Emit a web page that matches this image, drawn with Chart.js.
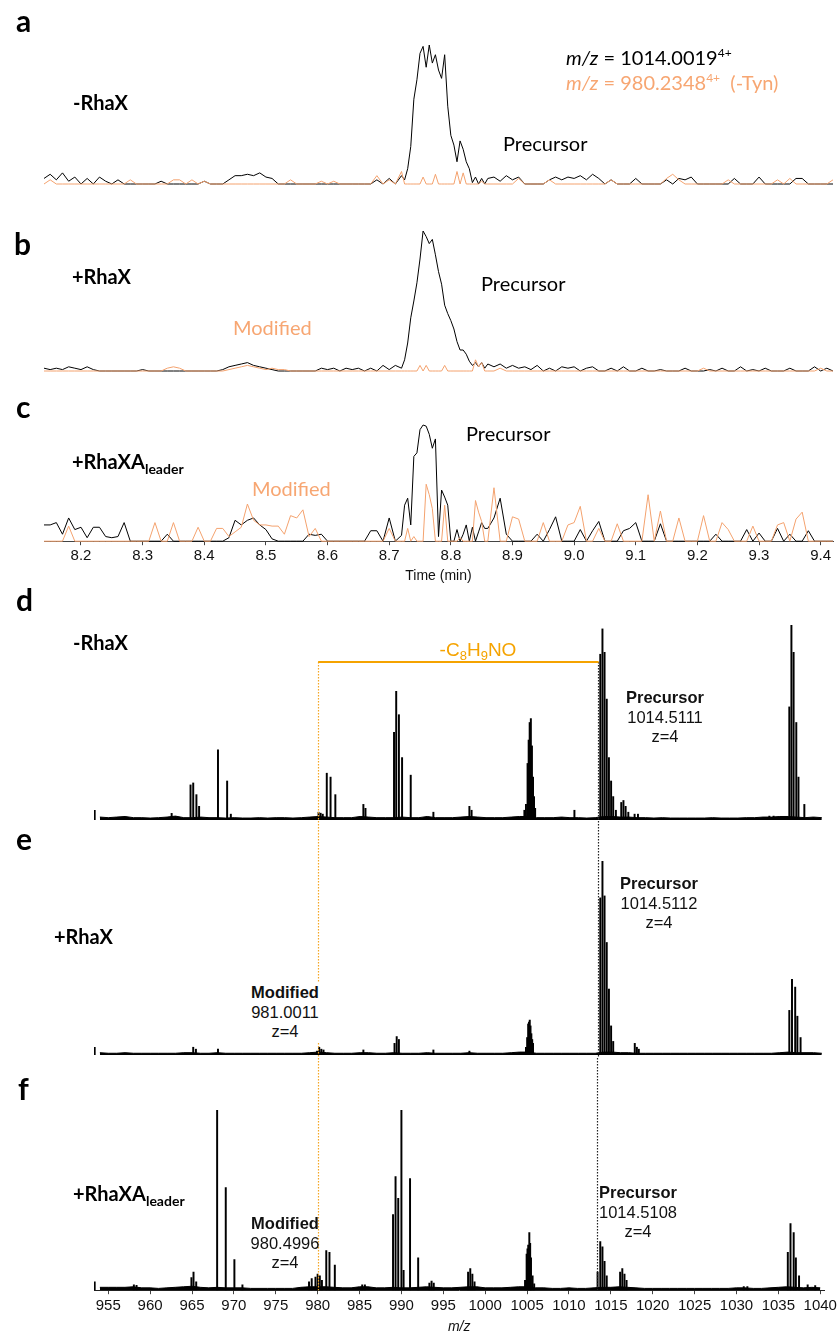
<!DOCTYPE html>
<html lang="en">
<head>
<meta charset="UTF-8">
<title>RhaX LC-MS traces and spectra</title>
<script src="https://cdn.jsdelivr.net/npm/chart.js"></script>
<style>
    body { margin: 0; background: #fff; }
    #fig { position: relative; width: 840px; height: 1334px; overflow: hidden; background: #fff; }
    canvas { position: absolute; left: 0; }
    .t { position: absolute; white-space: nowrap; line-height: 1; transform: translateY(-50%); color: #000; }
    .letter { font: 700 30px Lato, 'Open Sans', sans-serif; }
    .sample { font: 700 20px Lato, sans-serif; }
    .sample sub { font-size: 14px; vertical-align: -5px; line-height: 0; }
    .cal { font: 400 20px Lato, sans-serif; }
    .cal sup { font-size: 12px; vertical-align: 8px; line-height: 0; }
    .orange { color: #F7A672; }
    .block { position: absolute; white-space: nowrap; text-align: center; transform: translateX(-50%);
             font: 400 16.5px 'Liberation Sans', Arial, sans-serif; line-height: 19.5px; color: #111; }
    .block b { font-weight: 700; }
    .loss { font: 400 19px 'Liberation Sans', Arial, sans-serif; color: #F5A300; transform: translate(-50%, -50%); }
    .loss sub { font-size: 13px; vertical-align: -4px; line-height: 0; }
</style>
</head>
<body>
<div id="fig">
    <canvas id="chA" width="840" height="200" style="top:0px"></canvas>
    <canvas id="chB" width="840" height="180" style="top:200px"></canvas>
    <canvas id="chC" width="840" height="213" style="top:380px"></canvas>
    <canvas id="chD" width="840" height="234" style="top:590px"></canvas>
    <canvas id="chE" width="840" height="234" style="top:824px"></canvas>
    <canvas id="chF" width="840" height="280" style="top:1058px"></canvas>

    <!-- panel letters -->
    <div class="t letter" style="left:16px; top:20px">a</div>
    <div class="t letter" style="left:14px; top:243px">b</div>
    <div class="t letter" style="left:16px; top:406px">c</div>
    <div class="t letter" style="left:16px; top:599px">d</div>
    <div class="t letter" style="left:16px; top:838px">e</div>
    <div class="t letter" style="left:18px; top:1088px">f</div>

    <!-- chromatogram labels -->
    <div class="t sample" style="left:73px; top:102px">-RhaX</div>
    <div class="t sample" style="left:72px; top:276px">+RhaX</div>
    <div class="t sample" style="left:72px; top:461px">+RhaXA<sub>leader</sub></div>
    <div class="t cal" style="left:566px; top:57px"><i>m/z</i> = 1014.0019<sup>4+</sup></div>
    <div class="t cal orange" style="left:566px; top:82px"><i>m/z</i> = 980.2348<sup>4+</sup>&nbsp;&nbsp;(-Tyn)</div>
    <div class="t cal" style="left:503px; top:143px">Precursor</div>
    <div class="t cal" style="left:481px; top:283px">Precursor</div>
    <div class="t cal" style="left:466px; top:433px">Precursor</div>
    <div class="t cal orange" style="left:233px; top:327px">Modified</div>
    <div class="t cal orange" style="left:252px; top:488px">Modified</div>

    <!-- spectrum labels -->
    <div class="t sample" style="left:73px; top:642px">-RhaX</div>
    <div class="t sample" style="left:54px; top:936px">+RhaX</div>
    <div class="t sample" style="left:73px; top:1193px">+RhaXA<sub>leader</sub></div>
    <div class="t loss" style="left:478px; top:650px">-C<sub>8</sub>H<sub>9</sub>NO</div>
    <div class="block" style="left:665px; top:688px"><b>Precursor</b><br>1014.5111<br>z=4</div>
    <div class="block" style="left:659px; top:874px"><b>Precursor</b><br>1014.5112<br>z=4</div>
    <div class="block" style="left:285px; top:983px; background:#fff; padding:0 3px"><b>Modified</b><br>981.0011<br>z=4</div>
    <div class="block" style="left:285px; top:1214px"><b>Modified</b><br>980.4996<br>z=4</div>
    <div class="block" style="left:638px; top:1183px"><b>Precursor</b><br>1014.5108<br>z=4</div>
</div>

<script>
    // ---- chromatogram data (EIC, % of each panel's precursor apex) ----
    const times = [
        8.14, 8.15, 8.16, 8.17, 8.18, 8.19, 8.20, 8.21, 8.22, 8.23,
        8.24, 8.25, 8.26, 8.27, 8.28, 8.29, 8.30, 8.31, 8.32, 8.33,
        8.34, 8.35, 8.36, 8.37, 8.38, 8.39, 8.40, 8.41, 8.42, 8.43,
        8.44, 8.45, 8.46, 8.47, 8.48, 8.49, 8.50, 8.51, 8.52, 8.53,
        8.54, 8.55, 8.56, 8.57, 8.58, 8.59, 8.60, 8.61, 8.62, 8.63,
        8.64, 8.65, 8.66, 8.67, 8.68, 8.69, 8.70, 8.71, 8.72,
        8.725, 8.73, 8.735, 8.74, 8.745, 8.75, 8.755, 8.76, 8.765, 8.77,
        8.775, 8.78, 8.785, 8.79, 8.795, 8.80, 8.805, 8.81, 8.815, 8.82,
        8.825, 8.83, 8.835, 8.84, 8.845, 8.85, 8.855, 8.86,
        8.87, 8.88, 8.89, 8.90, 8.91, 8.92, 8.93, 8.94, 8.95, 8.96,
        8.97, 8.98, 8.99, 9.00, 9.01, 9.02, 9.03, 9.04, 9.05, 9.06,
        9.07, 9.08, 9.09, 9.10, 9.11, 9.12, 9.13, 9.14, 9.15, 9.16,
        9.17, 9.18, 9.19, 9.20, 9.21, 9.22, 9.23, 9.24, 9.25, 9.26,
        9.27, 9.28, 9.29, 9.30, 9.31, 9.32, 9.33, 9.34, 9.35, 9.36,
        9.37, 9.38, 9.39, 9.40, 9.41, 9.42
    ];
    const timeTicks = [8.2, 8.3, 8.4, 8.5, 8.6, 8.7, 8.8, 8.9, 9.0, 9.1, 9.2, 9.3, 9.4];

    // panel a: -RhaX
    const precursorA = [
        4, 7, 3, 8, 2, 5, 0, 4, 0, 5,
        2, 0, 3, 0, 0, 0, 0, 0, 0, 2,
        0, 0, 0, 0, 0, 0, 2, 0, 0, 0,
        3, 6, 6, 7, 6, 8, 5, 4, 0, 0,
        0, 0, 0, 0, 0, 0, 0, 0, 0, 0,
        0, 0, 0, 0, 3, 0, 4, 0, 6,
        3, 11, 27, 61, 75, 94, 99, 84, 100, 87,
        93, 82, 76, 93, 56, 35, 28, 16, 31, 25,
        16, 11, 1, 5, 0, 4, 0, 4,
        5, 2, 6, 3, 5, 0, 0, 0, 0, 3,
        5, 3, 5, 4, 6, 3, 7, 4, 0, 3,
        0, 0, 0, 4, 0, 0, 0, 0, 3, 0,
        4, 3, 5, 0, 0, 0, 0, 0, 0, 4,
        0, 0, 0, 5, 0, 0, 0, 0, 0, 4,
        4, 0, 0, 0, 0, 0
    ];
    const modifiedA = [
        0, 3, 0, 0, 0, 0, 0, 0, 0, 0,
        0, 0, 0, 0, 3, 0, 0, 0, 0, 0,
        0, 3, 3, 0, 3, 0, 2, 0, 0, 0,
        0, 0, 0, 0, 0, 0, 0, 0, 0, 0,
        3, 0, 0, 0, 0, 2, 0, 2, 0, 0,
        0, 0, 0, 0, 6, 0, 3, 0, 9,
        0, 0, 0, 0, 0, 0, 5, 0, 0, 0,
        7, 0, 0, 0, 0, 0, 0, 9, 0, 8,
        0, 0, 0, 0, 0, 2, 0, 0,
        0, 0, 0, 0, 4, 0, 0, 0, 0, 3,
        0, 0, 0, 0, 0, 0, 0, 0, 0, 3,
        0, 0, 0, 0, 0, 0, 0, 0, 4, 7,
        3, 0, 0, 0, 0, 0, 0, 0, 3, 0,
        0, 0, 0, 0, 0, 0, 3, 0, 4, 0,
        0, 0, 0, 0, 0, 3
    ];

    // panel b: +RhaX
    const precursorB = [
        2, 1, 2, 1, 3, 2, 1, 3, 1, 0,
        0, 0, 0, 0, 0, 0, 1, 0, 0, 0,
        0, 0, 0, 0, 0, 0, 0, 0, 0, 1,
        3, 4, 5, 6, 4, 3, 2, 1, 0, 0,
        0, 0, 0, 0, 0, 2, 1, 2, 0, 2,
        1, 2, 0, 2, 0, 4, 1, 4, 2,
        8, 20, 38, 50, 63, 80, 100, 96, 91, 94,
        83, 71, 62, 47, 41, 36, 30, 21, 15, 15,
        12, 7, 4, 6, 3, 6, 2, 5,
        3, 5, 2, 4, 2, 3, 1, 4, 0, 2,
        0, 3, 2, 3, 0, 2, 3, 0, 0, 2,
        0, 3, 0, 0, 2, 0, 0, 1, 0, 0,
        0, 2, 0, 0, 0, 1, 0, 2, 0, 0,
        3, 0, 1, 0, 2, 0, 0, 0, 2, 0,
        0, 0, 3, 0, 2, 0
    ];
    const modifiedB = [
        0, 0, 0, 0, 0, 0, 0, 0, 0, 0,
        0, 0, 0, 0, 0, 0, 0, 0, 0, 0,
        2, 3, 2, 0, 0, 0, 0, 0, 0, 0,
        1, 2, 3, 4, 3, 2, 1, 2, 1, 1,
        0, 0, 0, 0, 0, 0, 0, 0, 0, 0,
        0, 0, 0, 0, 0, 0, 0, 0, 0,
        0, 0, 0, 0, 0, 4, 0, 4, 0, 0,
        0, 0, 0, 4, 0, 0, 0, 0, 0, 0,
        0, 0, 0, 8, 3, 6, 0, 0,
        0, 2, 0, 0, 0, 0, 0, 0, 0, 0,
        0, 0, 0, 0, 0, 0, 0, 0, 0, 0,
        0, 0, 0, 0, 0, 0, 0, 0, 0, 0,
        0, 0, 0, 0, 2, 0, 0, 0, 0, 0,
        0, 0, 0, 0, 0, 0, 0, 0, 0, 0,
        0, 0, 0, 2, 0, 0
    ];

    // panel c: +RhaXA leader
    const precursorC = [
        14, 14, 16, 6, 20, 10, 12, 3, 12, 12,
        4, 3, 4, 16, 0, 0, 0, 0, 0, 0,
        6, 0, 0, 0, 0, 0, 0, 0, 0, 0,
        3, 18, 14, 18, 20, 14, 10, 2, 0, 0,
        0, 0, 0, 6, 5, 6, 0, 0, 0, 0,
        0, 0, 0, 9, 9, 0, 20, 0, 5,
        31, 37, 14, 73, 76, 96, 100, 99, 92, 80,
        88, 4, 44, 38, 31, 0, 0, 10, 0, 6,
        14, 0, 12, 0, 8, 16, 11, 11,
        20, 37, 6, 0, 0, 0, 0, 6, 0, 10,
        21, 0, 0, 0, 10, 0, 9, 17, 0, 0,
        0, 9, 11, 16, 0, 0, 0, 15, 0, 0,
        0, 0, 0, 0, 0, 0, 6, 0, 0, 0,
        0, 10, 0, 7, 0, 0, 11, 0, 6, 0,
        0, 9, 0, 0, 0, 0
    ];
    const modifiedC = [
        0, 0, 0, 0, 13, 0, 0, 0, 0, 0,
        0, 0, 0, 0, 0, 0, 0, 0, 16, 0,
        0, 16, 0, 0, 0, 12, 0, 0, 11, 11,
        4, 8, 12, 32, 18, 14, 14, 13, 13, 6,
        22, 20, 27, 4, 11, 0, 0, 0, 0, 0,
        0, 0, 0, 0, 0, 0, 11, 0, 0,
        0, 11, 0, 4, 0, 0, 0, 49, 40, 28,
        0, 0, 0, 31, 0, 0, 0, 0, 3, 0,
        0, 0, 0, 35, 25, 17, 0, 0,
        46, 0, 0, 21, 19, 0, 0, 0, 16, 0,
        0, 0, 14, 16, 30, 0, 0, 11, 0, 0,
        15, 0, 0, 0, 0, 40, 0, 26, 0, 0,
        20, 0, 0, 0, 22, 0, 0, 16, 10, 0,
        0, 0, 13, 0, 0, 0, 14, 16, 0, 19,
        25, 0, 0, 0, 0, 0
    ];

    // ---- mass spectra (% of tallest peak in each panel) ----
    const mzTicks = [955, 960, 965, 970, 975, 980, 985, 990, 995, 1000, 1005, 1010, 1015, 1020, 1025, 1030, 1035, 1040];
    const lossMz = [980.0, 1013.3]; // modified / precursor guide lines

    const peaksD_mz = [953.38, 962.55, 964.80, 965.12, 965.50, 965.82, 968.07, 969.16, 969.60, 980.05,
        980.30, 980.55, 981.03, 981.48, 982.05, 985.39, 985.64, 989.04, 989.30, 989.62,
        990.00, 991.03, 993.73, 998.02, 998.28, 1004.57, 1004.76, 1004.95, 1005.08, 1005.20,
        1005.34, 1005.47, 1005.60, 1005.72, 1005.85, 1010.53, 1013.61, 1013.87, 1014.12, 1014.38,
        1014.64, 1014.90, 1015.15, 1015.47, 1016.11, 1016.37, 1016.63, 1016.95, 1017.70, 1018.10,
        1033.75, 1034.26, 1036.13, 1036.38, 1036.64, 1036.96, 1037.22, 1037.92];
    const peaksD_int = [5, 3.4, 18, 19, 13, 7, 36, 20, 3, 4,
        3.5, 3, 24, 22, 13, 8, 6, 45, 66, 54,
        32, 23, 4, 7, 5, 5, 8, 29, 41, 50,
        52, 38, 22, 12, 6, 5, 85, 98, 86, 62,
        32, 20, 12, 5, 9, 10, 7, 4, 3, 3,
        2, 2, 58, 100, 86, 50, 22, 8];

    const peaksE_mz = [953.38, 965.12, 965.44, 968.07, 979.87, 980.13, 980.38, 980.64, 985.39, 989.10,
        989.36, 989.62, 993.73, 998.02, 1004.76, 1004.90, 1005.02, 1005.12, 1005.21, 1005.30,
        1005.40, 1005.50, 1005.60, 1013.61, 1013.87, 1014.12, 1014.38, 1014.64, 1014.90, 1015.15,
        1017.72, 1017.97, 1018.20, 1036.13, 1036.45, 1036.83, 1037.09, 1037.47];
    const peaksE_int = [4, 4, 3, 3, 2, 4, 3, 2.6, 2.6, 6,
        9.5, 8, 2.6, 2, 4, 9, 16, 17, 18, 15,
        11, 8, 6, 81, 100, 82, 58, 34, 15, 7,
        6, 4, 3, 23, 39, 35, 20, 9];

    const peaksF_mz = [953.38, 958.06, 958.38, 964.93, 965.18, 965.50, 968.00, 969.03, 970.06, 971.02,
        978.97, 979.29, 979.74, 980.00, 980.26, 980.51, 981.03, 981.41, 982.05, 985.32,
        985.64, 989.00, 989.30, 989.62, 990.00, 990.26, 991.03, 992.00, 993.34, 993.60,
        993.86, 997.96, 998.22, 998.47, 998.73, 1004.76, 1004.95, 1005.05, 1005.14, 1005.27,
        1005.37, 1005.47, 1005.66, 1005.85, 1013.42, 1013.74, 1014.00, 1014.25, 1014.51, 1016.11,
        1016.37, 1016.63, 1016.88, 1030.87, 1031.30, 1036.13, 1036.45, 1036.83, 1037.09, 1037.47,
        1038.50, 1039.40];
    const peaksF_int = [4.6, 3, 2.7, 7, 10, 4.6, 100, 57, 17, 3,
        4.6, 6.4, 7.3, 9, 8, 5.5, 22, 21, 14, 3,
        3, 42, 63, 51, 100, 11, 62, 18, 4, 5,
        4, 10, 12, 9, 4.6, 5.5, 20, 23, 25, 32,
        26, 18, 8, 3.6, 10, 27, 24, 16, 8, 10,
        12, 9, 5.5, 2, 2, 21, 37, 32, 18, 8,
        3, 2.5];

    // baseline noise, one value per m/z unit
    const noiseMz = [954, 955, 956, 957, 958, 959, 960, 961, 962, 963,
        964, 965, 966, 967, 968, 969, 970, 971, 972, 973,
        974, 975, 976, 977, 978, 979, 980, 981, 982, 983,
        984, 985, 986, 987, 988, 989, 990, 991, 992, 993,
        994, 995, 996, 997, 998, 999, 1000, 1001, 1002, 1003,
        1004, 1005, 1006, 1007, 1008, 1009, 1010, 1011, 1012, 1013,
        1014, 1015, 1016, 1017, 1018, 1019, 1020, 1021, 1022, 1023,
        1024, 1025, 1026, 1027, 1028, 1029, 1030, 1031, 1032, 1033,
        1034, 1035, 1036, 1037, 1038, 1039, 1040];
    const noiseD = [1.5, 1.2, 1.5, 1.8, 1.2, 1.2, 1, 1.2, 1.5, 2,
        1.2, 1.2, 1.5, 1.2, 1.2, 1, 1.2, 1, 1, 1.2,
        1, 1.2, 1.2, 1, 1.2, 1.5, 1.8, 1.5, 1.2, 1.2,
        1.2, 1.8, 1.5, 1.2, 1.2, 1.2, 1.5, 1.2, 1.2, 1.8,
        1.2, 1.2, 1.2, 1.5, 1.8, 1.5, 1.2, 1.2, 1.2, 1.5,
        1.8, 1.8, 1.2, 1.2, 1.2, 1.5, 1.2, 1.2, 1, 1.2,
        1.8, 1.8, 1.5, 1.5, 1.2, 1.2, 1, 1.2, 1, 1,
        1, 1, 1, 1.2, 1, 1, 1, 1.2, 1.2, 1.5,
        1.5, 1.8, 1.8, 1.5, 1.2, 1.5, 1.2];
    const noiseE = [1.2, 0.9, 0.9, 1.2, 0.9, 0.9, 0.9, 0.9, 0.9, 0.9,
        1.2, 1.2, 0.9, 0.9, 1.2, 0.9, 0.9, 0.9, 0.9, 0.9,
        0.9, 0.9, 0.9, 0.9, 0.9, 1.2, 1.5, 1.2, 0.9, 0.9,
        0.9, 1.2, 1.2, 0.9, 0.9, 1.2, 0.9, 0.9, 0.9, 1.2,
        0.9, 0.9, 0.9, 0.9, 1.2, 0.9, 0.9, 0.9, 0.9, 1.2,
        1.5, 1.5, 0.9, 0.9, 0.9, 0.9, 0.9, 0.9, 0.9, 0.9,
        1.5, 1.5, 1.2, 1.2, 0.9, 0.9, 0.9, 0.9, 0.9, 0.9,
        0.9, 0.9, 0.9, 0.9, 0.9, 0.9, 0.9, 0.9, 0.9, 0.9,
        0.9, 1.2, 1.5, 1.2, 1.2, 1.2, 0.9];
    const noiseF = [1.6, 1.6, 1.6, 1.6, 1.9, 1.3, 1.3, 1, 1.3, 1.6,
        1.9, 2.2, 1.6, 1.3, 1.6, 1.3, 1.3, 1.3, 1, 1,
        1, 1, 1, 1, 1.6, 1.9, 1.9, 1.9, 1.6, 1.3,
        1.3, 1.9, 1.9, 1.3, 1.3, 1.6, 1.3, 1.3, 1.6, 1.9,
        1.6, 1.3, 1.3, 1.6, 1.9, 1.9, 1.3, 1.3, 1.3, 1.6,
        1.9, 1.9, 1.3, 1.3, 1, 1, 1.3, 1, 1, 1.3,
        1.6, 1.6, 1.9, 1.6, 1.3, 1, 1, 1, 1, 1,
        1, 1, 1, 1, 1, 1, 1.3, 1.3, 1, 1,
        1.3, 1.6, 1.9, 1.6, 1.3, 1.6, 1.3];

    const ORANGE = '#F4A26E';
    Chart.defaults.font.family = "'Liberation Sans', Arial, sans-serif";
    Chart.defaults.color = '#111';

    const pairs = (xs, ys) => xs.map((x, i) => ({ x: x, y: ys[i] }));

    // dotted guide lines (and the loss bracket) through the spectra
    const guides = {
        id: 'guides',
        afterDatasetsDraw(chart, args, opts) {
            const { ctx, chartArea, scales } = chart;
            const bottom = opts.toArea ? chartArea.bottom : chart.height;
            ctx.save();
            ctx.lineWidth = 1.2;
            ctx.setLineDash([1.5, 1.5]);
            [[lossMz[0], '#F5A623'], [lossMz[1], '#222']].forEach(([m, col]) => {
                const px = Math.round(scales.x.getPixelForValue(m)) + 0.5;
                ctx.strokeStyle = col;
                ctx.beginPath();
                ctx.moveTo(px, opts.top);
                ctx.lineTo(px, bottom);
                ctx.stroke();
            });
            if (opts.bracket) {
                ctx.setLineDash([]);
                ctx.lineWidth = 2;
                ctx.strokeStyle = '#F5A300';
                ctx.beginPath();
                ctx.moveTo(scales.x.getPixelForValue(lossMz[0]), opts.top);
                ctx.lineTo(scales.x.getPixelForValue(lossMz[1]) + 1, opts.top);
                ctx.stroke();
            }
            ctx.restore();
        }
    };

    function chromChart(id, black, orange, padding, withAxis) {
        const x = { type: 'linear', min: 8.14, max: 9.42, display: withAxis };
        if (withAxis) {
            Object.assign(x, {
                afterBuildTicks: s => { s.ticks = timeTicks.map(v => ({ value: v })); },
                ticks: { callback: v => v.toFixed(1), font: { size: 15 }, padding: 2, maxRotation: 0, autoSkip: false },
                grid: { display: true, drawOnChartArea: false, drawTicks: true, tickLength: 4, color: '#444' },
                border: { display: true, color: '#444' },
                title: { display: true, text: 'Time (min)', font: { size: 14 }, padding: { top: 1, bottom: 0 } }
            });
        }
        return new Chart(document.getElementById(id), {
            type: 'line',
            data: {
                datasets: [
                    { data: pairs(times, black), borderColor: '#000', borderWidth: 1, pointRadius: 0, tension: 0, clip: 4, order: 2 },
                    { data: pairs(times, orange), borderColor: ORANGE, borderWidth: 1, pointRadius: 0, tension: 0, clip: 4, order: 1 }
                ]
            },
            options: {
                responsive: false, animation: false, events: [],
                layout: { padding: padding },
                plugins: { legend: { display: false }, tooltip: { enabled: false } },
                scales: { x: x, y: { min: 0, max: 100, display: false } }
            }
        });
    }

    function specChart(id, mz, inten, noise, padding, withAxis, guideOpts) {
        const x = { type: 'linear', min: 953.3, max: 1040.5, offset: false, display: withAxis };
        if (withAxis) {
            Object.assign(x, {
                afterBuildTicks: s => { s.ticks = mzTicks.map(v => ({ value: v })); },
                ticks: { callback: v => String(v), font: { size: 15 }, padding: 3, maxRotation: 0, autoSkip: false },
                grid: { display: true, drawOnChartArea: false, drawTicks: true, tickLength: 4, color: '#444', offset: false },
                border: { display: true, color: '#222' },
                title: { display: true, text: 'm/z', font: { size: 14, style: 'italic' }, padding: { top: 1, bottom: 0 } }
            });
        }
        return new Chart(document.getElementById(id), {
            type: 'bar',
            data: {
                datasets: [
                    { type: 'bar', data: pairs(mz, inten), backgroundColor: '#000', barThickness: 1.3, order: 1 },
                    { type: 'line', data: pairs(noiseMz, noise), borderColor: '#000', backgroundColor: '#000',
                      borderWidth: 1, fill: 'origin', pointRadius: 0, tension: 0, clip: 3, order: 2 }
                ]
            },
            options: {
                responsive: false, animation: false, events: [],
                layout: { padding: padding },
                plugins: { legend: { display: false }, tooltip: { enabled: false }, guides: guideOpts },
                scales: { x: x, y: { min: 0, max: 100, display: false } }
            },
            plugins: [guides]
        });
    }

    chromChart('chA', precursorA, modifiedA, { left: 44, right: 7, top: 45, bottom: 16 }, false);
    chromChart('chB', precursorB, modifiedB, { left: 44, right: 7, top: 31, bottom: 9 }, false);
    chromChart('chC', precursorC, modifiedC, { left: 44, right: 7, top: 45, bottom: 8 }, true);

    specChart('chD', peaksD_mz, peaksD_int, noiseD, { left: 94, right: 14, top: 35, bottom: 4 }, false, { top: 72, bracket: true });
    specChart('chE', peaksE_mz, peaksE_int, noiseE, { left: 94, right: 14, top: 37, bottom: 3 }, false, { top: 0 });
    specChart('chF', peaksF_mz, peaksF_int, noiseF, { left: 94, right: 14, top: 52, bottom: 2 }, true, { top: 0, toArea: true });
</script>
</body>
</html>
